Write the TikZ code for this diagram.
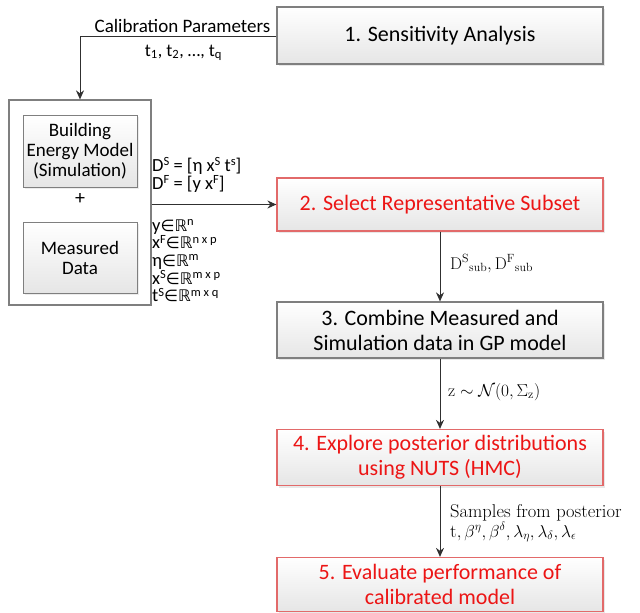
\documentclass[tikz,border=0pt]{standalone}
\usepackage{amssymb}
\usepackage{fontspec}
\newfontfamily\calib{Carlito}
\newfontfamily\djv{DejaVu Sans}
\usetikzlibrary{arrows.meta,shadows}
\definecolor{boxgray}{HTML}{7F7F7F}
\definecolor{boxred}{HTML}{E26A6A}
\definecolor{textred}{HTML}{EC1515}
\definecolor{arrowc}{HTML}{303030}
\newcommand{\sz}[2]{\fontsize{#1}{#2}\selectfont}
\newcommand{\lines}[1]{\renewcommand{\arraystretch}{1}\begin{tabular}[t]{@{}l@{}}#1\end{tabular}}
\newcommand{\inR}{{\djv\sz{16}{17}∈ℝ}}
\newcommand{\up}[1]{\raisebox{0.3em}{\sz{12.5}{12.5}#1}}
\tikzset{
  stepbox/.style={draw=boxgray, line width=1.2pt, top color=white, bottom color=black!10,
    minimum width=326pt, minimum height=56pt, align=center, inner sep=2pt,
    font=\calib\sz{22}{25}, drop shadow={opacity=0.18, shadow xshift=2pt, shadow yshift=-2pt}},
  redbox/.style={stepbox, draw=boxred, text=textred},
  innerbox/.style={draw=boxgray, line width=1pt, top color=white, bottom color=black!10,
    minimum width=114pt, align=center, inner sep=1pt, font=\calib\sz{19}{20},
    drop shadow={opacity=0.15, shadow xshift=1.5pt, shadow yshift=-1.5pt}},
  lbl/.style={font=\calib\sz{18.5}{17.7}, inner sep=0pt, anchor=base west},
  slbl/.style={font=\rmfamily\sz{17.5}{20}, inner sep=0pt, anchor=base west},
  arr/.style={draw=arrowc, line width=1pt, -{Stealth[length=9pt,width=8pt]}},
}
\begin{document}
\begin{tikzpicture}[x=1pt,y=-1pt]
\useasboundingbox (0,0) rectangle (640,613);
% step boxes
\node[stepbox, minimum height=57pt] (s1) at (440,35.5) {1. Sensitivity Analysis};
\node[redbox, minimum height=53pt] (s2) at (440,204.5) {2. Select Representative Subset};
\node[stepbox, minimum height=56pt] (s3) at (440,330) {3. Combine Measured and\\Simulation data in GP model};
\node[redbox, minimum height=56pt] (s4) at (440,457.5) {4. Explore posterior distributions\\using NUTS (HMC)};
\node[redbox, minimum height=54pt] (s5) at (440,584.5) {5. Evaluate performance of\\calibrated model};
% left group
\node[draw=boxgray, line width=1.2pt, fill=white, minimum width=142pt, minimum height=205pt] (grp) at (80,202.5) {};
\node[innerbox, minimum height=72pt] (bem) at (80,151) {Building\\Energy Model\\(Simulation)};
\node[font=\calib\sz{20}{20}, inner sep=0pt] (plus) at (80,199) {+};
\node[innerbox, minimum height=71pt] (meas) at (80,257.5) {Measured\\Data};
% connectors
\coordinate (corner) at (80,36);
\draw[arr] (s1.west |- corner) -- (corner) -- (grp.north);
\draw[arr] (grp.east |- s2.west) -- (s2.west);
\draw[arr] (s2.south) -- (s3.north);
\draw[arr] (s3.south) -- (s4.north);
\draw[arr] (s4.south) -- (s5.north);
% labels
\node[lbl, font=\calib\sz{19}{19}, anchor=base] (calp) at (182.5,32) {Calibration Parameters};
\node[lbl, font=\calib\sz{18}{18}, anchor=base] (tq) at (183.5,56) {t\textsubscript{1}, t\textsubscript{2}, \dots, t\textsubscript{q}};
\node[lbl, font=\calib\sz{18.5}{17.7}] (dsf) at (152,171.5) {\lines{%
  \smash{D\up{S} = [η x\up{S} t\up{s}]}\\
  \smash{D\up{F} = [y x\up{F}]}}};
\node[lbl] (dims) at (152,231) {\lines{%
  \smash{y\inR\up{n}}\\
  \smash{x\up{F}\inR\up{n x p}}\\
  \smash{η\inR\up{m}}\\
  \smash{x\up{S}\inR\up{m x p}}\\
  \smash{t\up{S}\inR\up{m x q}}}};
\node[slbl, font=\rmfamily\sz{17}{20}] (dsub) at (450,269) {$\mathrm{D^S{}_{sub}, D^F{}_{sub}}$};
\node[slbl] (zl) at (448,396) {$\mathrm{z}\sim\mathcal{N}(0,\Sigma_{\mathrm{z}})$};
\node[slbl, font=\rmfamily\sz{18.5}{20}] (samp) at (450,517) {\lines{%
  \smash{Samples from posterior}\\
  \smash{$\mathrm{t}, \beta^{\eta}, \beta^{\delta}, \lambda_{\eta}, \lambda_{\delta}, \lambda_{\epsilon}$}}};
\end{tikzpicture}
\end{document}
